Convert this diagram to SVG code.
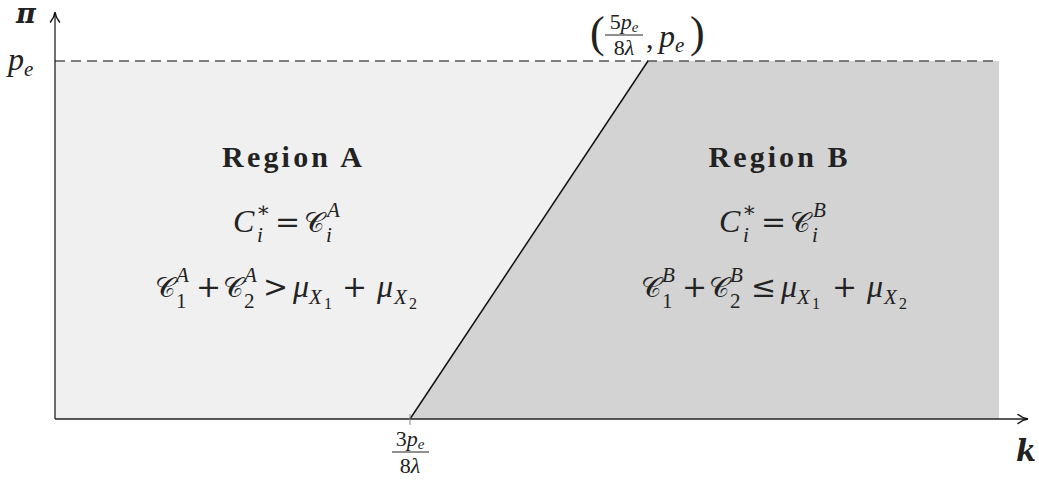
<svg xmlns="http://www.w3.org/2000/svg" width="1039" height="485" viewBox="0 0 1039 485">
<style>
text{fill:#222}
.mi{font-family:"Liberation Serif","DejaVu Serif",serif;font-style:italic;font-size:32px}
.rm{font-family:"Liberation Serif","DejaVu Serif",serif;font-style:normal}
.op{font-family:"DejaVu Serif","Liberation Serif",serif;font-style:normal;font-size:30px}
.cal{font-family:"DejaVu Serif","DejaVu Sans",serif;font-style:normal;font-size:28px}
.s{font-size:21px}
.ss{font-size:16px}
.fs{font-size:15px}
.t{font-family:"Liberation Serif","DejaVu Serif",serif;font-weight:bold;font-size:30px}
.f{font-family:"Liberation Serif","DejaVu Serif",serif;font-style:italic;font-size:22px}
.bar{stroke:#222;stroke-width:1.2}
</style>
<defs>
<marker id="arr" viewBox="0 0 12 12" refX="10" refY="6" markerWidth="12" markerHeight="12" markerUnits="userSpaceOnUse" orient="auto">
<path d="M1,1.5 Q6,5.5 11,6 Q6,6.5 1,10.5" fill="none" stroke="#111" stroke-width="1.5" stroke-linecap="round"/>
</marker>
</defs>
<rect width="1039" height="485" fill="#fff"/>
<g id="regions">
<polygon id="regionA-fill" points="55,61 648,61 410,419 55,419" fill="#f0f0f0"/>
<polygon id="regionB-fill" points="648,61 999,61 999,419 410,419" fill="#d3d3d3"/>
</g>
<g id="connectors">
<line x1="55" y1="61" x2="999" y2="61" stroke="#555" stroke-width="1.4" stroke-dasharray="10 6"/>
<line x1="410" y1="419" x2="648" y2="61" stroke="#111" stroke-width="1.5"/>
<line x1="55" y1="419" x2="1027" y2="419" stroke="#222" stroke-width="1.3" marker-end="url(#arr)"/>
<line x1="55" y1="419" x2="55" y2="13" stroke="#222" stroke-width="1.3" marker-end="url(#arr)"/>
<line x1="410" y1="414" x2="410" y2="425" stroke="#888" stroke-width="1"/>
</g>
<g id="axis-labels">
<text x="16" y="23" font-family="'DejaVu Serif',serif" font-weight="bold" font-style="italic" font-size="27" fill="#111">π</text>
<text x="8" y="70" class="mi" font-size="29">p<tspan class="s" dy="6">e</tspan></text>
<text x="1016" y="461" font-family="'DejaVu Serif',serif" font-weight="bold" font-style="italic" font-size="29" fill="#111">k</text>
</g>
<g id="label-top">
<text x="590" y="47" class="rm" font-size="44">(</text>
<text x="624" y="29" class="f" text-anchor="middle"><tspan class="rm">5</tspan>p<tspan class="fs" dy="3">e</tspan></text>
<line class="bar" x1="605" y1="35" x2="643" y2="35"/>
<text x="624" y="55" class="f" text-anchor="middle"><tspan class="rm">8</tspan>λ</text>
<text x="646" y="48" class="rm" font-size="30">,</text>
<text x="659" y="47" class="mi" font-size="30">p<tspan class="s" dy="5">e</tspan></text>
<text x="690" y="47" class="rm" font-size="44">)</text>
</g>
<g id="label-bottom">
<text x="410" y="446" class="f" text-anchor="middle"><tspan class="rm">3</tspan>p<tspan class="fs" dy="3">e</tspan></text>
<line class="bar" x1="392" y1="452" x2="429" y2="452"/>
<text x="410" y="473" class="f" text-anchor="middle"><tspan class="rm">8</tspan>λ</text>
</g>
<g id="nodeA">
<text x="292" y="167" class="t" text-anchor="middle" textLength="140" lengthAdjust="spacing">Region A</text>
<text class="mi"><tspan x="233" y="232">C</tspan><tspan class="s rm" x="256" y="217">∗</tspan><tspan class="s" x="257" y="242">i</tspan><tspan class="op" x="275" y="232">=</tspan><tspan class="cal" x="304" y="232">𝒞</tspan><tspan class="s" x="327" y="217">A</tspan><tspan class="s" x="326" y="242">i</tspan></text>
<text class="mi"><tspan class="cal" x="155" y="297">𝒞</tspan><tspan class="s" x="176" y="282">A</tspan><tspan class="s rm" x="176" y="308">1</tspan><tspan class="op" x="196" y="297">+</tspan><tspan class="cal" x="223" y="297">𝒞</tspan><tspan class="s" x="244" y="282">A</tspan><tspan class="s rm" x="244" y="308">2</tspan><tspan class="op" x="263" y="297">&gt;</tspan><tspan x="293" y="297">μ</tspan><tspan class="s" x="309" y="304">X</tspan><tspan class="ss rm" x="324" y="309">1</tspan><tspan class="op" x="342" y="297">+</tspan><tspan x="377" y="297">μ</tspan><tspan class="s" x="394" y="304">X</tspan><tspan class="ss rm" x="409" y="309">2</tspan></text>
</g>
<g id="nodeB">
<text x="778" y="167" class="t" text-anchor="middle" textLength="139" lengthAdjust="spacing">Region B</text>
<text class="mi"><tspan x="719" y="232">C</tspan><tspan class="s rm" x="742" y="217">∗</tspan><tspan class="s" x="743" y="242">i</tspan><tspan class="op" x="761" y="232">=</tspan><tspan class="cal" x="790" y="232">𝒞</tspan><tspan class="s" x="813" y="217">B</tspan><tspan class="s" x="812" y="242">i</tspan></text>
<text class="mi"><tspan class="cal" x="641" y="297">𝒞</tspan><tspan class="s" x="662" y="282">B</tspan><tspan class="s rm" x="662" y="308">1</tspan><tspan class="op" x="682" y="297">+</tspan><tspan class="cal" x="709" y="297">𝒞</tspan><tspan class="s" x="730" y="282">B</tspan><tspan class="s rm" x="730" y="308">2</tspan><tspan class="op" x="751" y="297">≤</tspan><tspan x="781" y="297">μ</tspan><tspan class="s" x="797" y="304">X</tspan><tspan class="ss rm" x="812" y="309">1</tspan><tspan class="op" x="832" y="297">+</tspan><tspan x="867" y="297">μ</tspan><tspan class="s" x="884" y="304">X</tspan><tspan class="ss rm" x="899" y="309">2</tspan></text>
</g>
</svg>
